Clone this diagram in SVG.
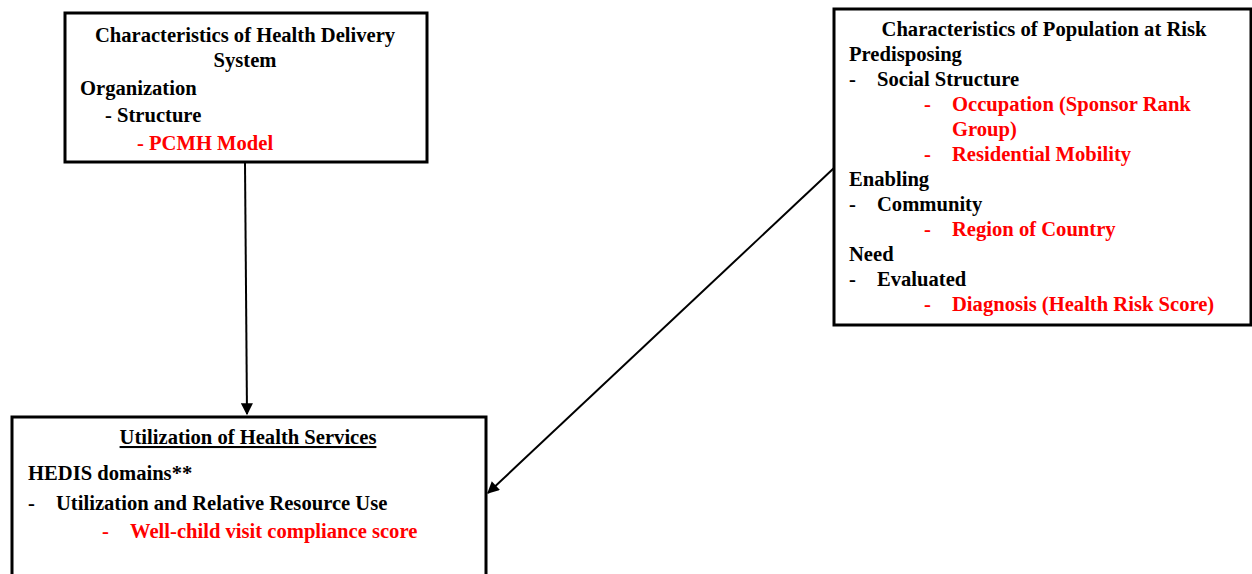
<svg xmlns="http://www.w3.org/2000/svg" width="1252" height="574" viewBox="0 0 1252 574">
<style>
.box{fill:#fff;stroke:#000;stroke-width:3}
text{font-family:"Liberation Serif","Times New Roman",serif;font-weight:bold;font-size:20.6px;fill:#000}
.r{fill:#f00}
.c{text-anchor:middle}
.ln{stroke:#000;stroke-width:2;fill:none}
</style>
<defs>
<marker id="ah" viewBox="0 0 10 10" refX="9" refY="5" markerWidth="14" markerHeight="12" markerUnits="userSpaceOnUse" orient="auto">
<path d="M0,0 L10,5 L0,10 z" fill="#000"/>
</marker>
</defs>
<rect width="1252" height="574" fill="#fff"/>
<g id="connectors">
<line class="ln" x1="245" y1="163" x2="247" y2="414" marker-end="url(#ah)"/>
<line class="ln" x1="834" y1="168" x2="488" y2="493" marker-end="url(#ah)"/>
</g>
<g id="delivery">
<rect class="box" x="65" y="13" width="362" height="149"/>
<text class="c" x="245" y="42">Characteristics of Health Delivery</text>
<text class="c" x="245" y="67">System</text>
<text x="80" y="95">Organization</text>
<text x="105" y="122">- Structure</text>
<text class="r" x="137" y="150">- PCMH Model</text>
</g>
<g id="population">
<rect class="box" x="834" y="9" width="417" height="316"/>
<text class="c" x="1044" y="36">Characteristics of Population at Risk</text>
<text x="849" y="61">Predisposing</text>
<text x="849" y="86">-</text><text x="877" y="86">Social Structure</text>
<text class="r" x="924" y="111">-</text><text class="r" x="952" y="111">Occupation (Sponsor Rank</text>
<text class="r" x="952" y="136">Group)</text>
<text class="r" x="924" y="161">-</text><text class="r" x="952" y="161">Residential Mobility</text>
<text x="849" y="186">Enabling</text>
<text x="849" y="211">-</text><text x="877" y="211">Community</text>
<text class="r" x="924" y="236">-</text><text class="r" x="952" y="236">Region of Country</text>
<text x="849" y="261">Need</text>
<text x="849" y="286">-</text><text x="877" y="286">Evaluated</text>
<text class="r" x="924" y="311">-</text><text class="r" x="952" y="311">Diagnosis (Health Risk Score)</text>
</g>
<g id="utilization">
<rect class="box" x="12" y="417" width="474" height="170"/>
<text class="c" x="248" y="444" text-decoration="underline">Utilization of Health Services</text>
<text x="28" y="480">HEDIS domains**</text>
<text x="28" y="510">-</text><text x="56" y="510">Utilization and Relative Resource Use</text>
<text class="r" x="102" y="538">-</text><text class="r" x="130" y="538">Well-child visit compliance score</text>
</g>
</svg>
